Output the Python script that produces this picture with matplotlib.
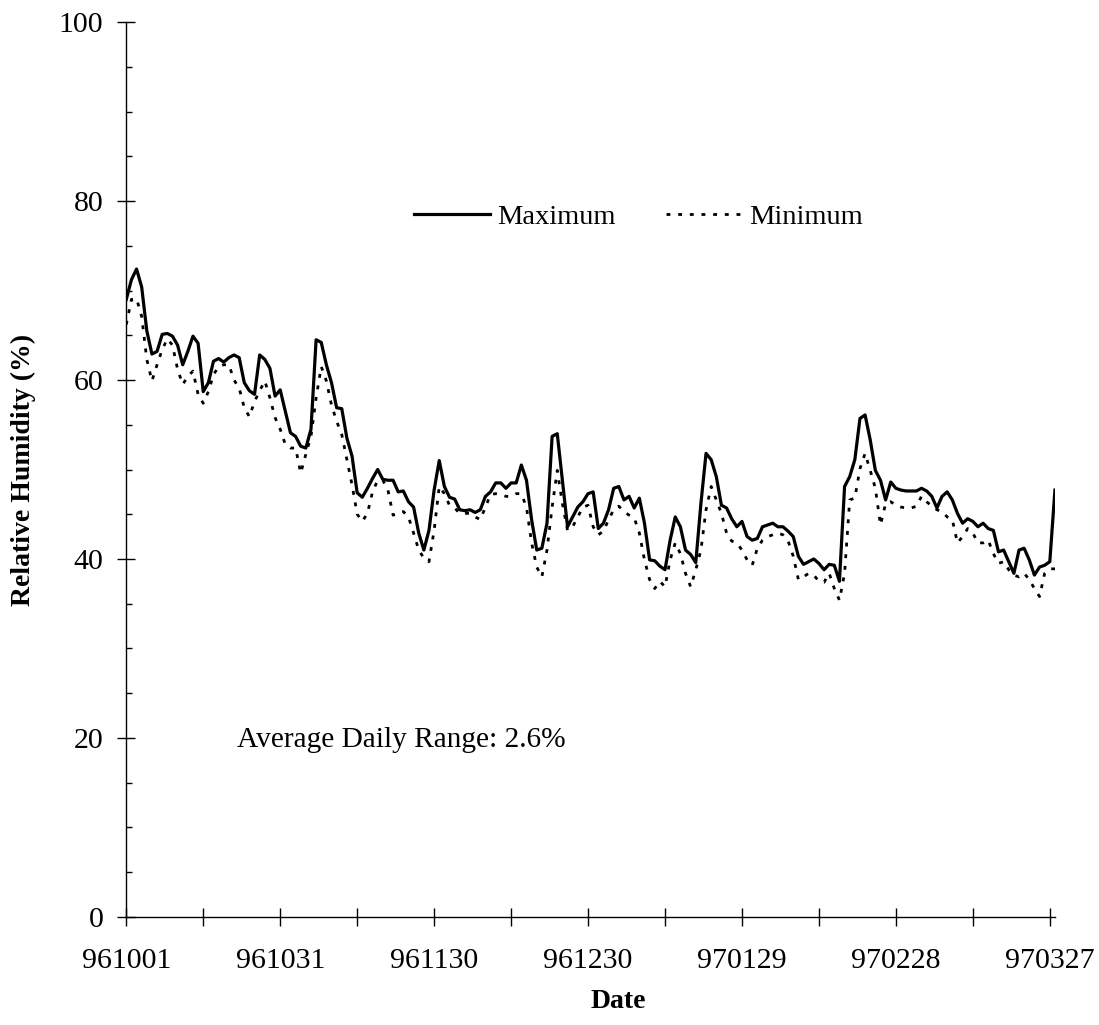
import matplotlib
matplotlib.use("Agg")
import matplotlib.pyplot as plt
import numpy as np

plt.rcParams["font.family"] = ["Liberation Serif", "DejaVu Serif"]

# Daily relative humidity, 1996-10-01 .. 1997-03-27 (one value per logged day)
max_rh = [
    69.0, 71.2, 72.4, 70.4, 65.5, 62.9, 63.2, 65.1, 65.2, 64.9,
    63.9, 61.7, 63.2, 64.9, 64.1, 58.7, 59.7, 62.1, 62.4, 62.0,
    62.5, 62.8, 62.5, 59.7, 58.8, 58.4, 62.8, 62.3, 61.3, 58.2,
    58.9, 56.5, 54.1, 53.7, 52.6, 52.4, 54.5, 64.5, 64.2, 61.7,
    59.7, 56.9, 56.8, 53.5, 51.5, 47.4, 46.9, 47.9, 49.0, 50.0,
    48.9, 48.8, 48.8, 47.5, 47.6, 46.4, 45.8, 42.9, 41.0, 43.2,
    47.7, 51.0, 48.1, 46.9, 46.7, 45.5, 45.4, 45.5, 45.2, 45.5,
    47.0, 47.5, 48.5, 48.5, 47.9, 48.5, 48.5, 50.5, 48.8, 44.4,
    41.0, 41.2, 44.0, 53.7, 54.0, 48.8, 43.6, 44.7, 45.8, 46.4,
    47.3, 47.5, 43.4, 44.0, 45.5, 47.9, 48.1, 46.6, 47.0, 45.7,
    46.8, 44.0, 39.9, 39.8, 39.2, 38.8, 42.1, 44.7, 43.6, 41.0,
    40.5, 39.6, 46.2, 51.8, 51.1, 49.2, 46.0, 45.7, 44.5, 43.6,
    44.2, 42.5, 42.1, 42.3, 43.6, 43.8, 44.0, 43.6, 43.6, 43.1,
    42.5, 40.3, 39.4, 39.7, 40.0, 39.5, 38.8, 39.4, 39.3, 37.5,
    48.1, 49.2, 51.1, 55.7, 56.1, 53.3, 49.9, 48.8, 46.6, 48.6,
    47.9, 47.7, 47.6, 47.6, 47.6, 47.9, 47.6, 47.0, 45.7, 47.0,
    47.5, 46.6, 45.1, 44.0, 44.5, 44.2, 43.6, 44.0, 43.4, 43.2,
    40.8, 41.0, 39.7, 38.4, 41.0, 41.2, 39.9, 38.2, 39.1, 39.3,
    39.7, 47.7,
]
min_rh = [
    66.2, 69.0, 69.1, 67.1, 62.3, 59.9, 61.7, 63.4, 64.6, 63.9,
    61.2, 59.5, 60.4, 61.0, 58.4, 57.4, 58.7, 60.6, 61.5, 61.7,
    61.7, 60.0, 59.1, 56.9, 55.9, 57.6, 58.8, 59.9, 58.0, 55.8,
    54.5, 52.8, 52.4, 52.4, 49.6, 51.7, 53.7, 58.0, 61.5, 59.9,
    57.2, 55.4, 53.9, 51.1, 48.3, 45.0, 44.2, 45.1, 47.5, 48.8,
    48.8, 47.7, 44.9, 45.1, 45.3, 44.7, 42.9, 41.0, 40.1, 39.7,
    43.2, 48.1, 47.3, 46.0, 45.7, 45.1, 45.1, 45.1, 44.7, 44.4,
    45.8, 47.2, 47.3, 47.2, 47.0, 47.0, 47.3, 47.3, 45.8, 41.8,
    39.1, 38.0, 41.0, 45.8, 49.9, 46.2, 43.2, 43.6, 44.7, 45.8,
    46.0, 43.6, 42.7, 43.1, 44.4, 45.5, 45.9, 45.3, 44.9, 44.6,
    42.9, 39.9, 37.7, 36.7, 37.5, 36.9, 39.9, 41.8, 40.6, 38.4,
    36.9, 38.8, 41.0, 45.5, 48.1, 46.6, 45.1, 42.9, 42.0, 41.8,
    41.0, 39.9, 39.3, 41.2, 42.1, 42.5, 42.7, 42.9, 42.7, 42.0,
    40.3, 37.7, 38.0, 38.4, 38.2, 37.5, 37.4, 38.4, 36.7, 35.4,
    38.4, 46.6, 46.8, 50.1, 51.8, 49.9, 47.9, 43.8, 46.2, 46.4,
    46.0, 45.8, 45.7, 45.7, 45.9, 47.0, 46.4, 45.9, 45.5, 45.3,
    44.7, 44.4, 41.8, 42.5, 43.4, 42.9, 41.8, 41.8, 42.1, 40.6,
    39.5, 39.7, 38.8, 38.2, 38.0, 38.4, 37.7, 36.7, 35.8, 38.4,
    38.9, 38.9,
]
date_labels = ["961001", "961031", "961130", "961230", "970129", "970228", "970327"]
note = "Average Daily Range: 2.6%"

days = np.arange(len(max_rh))

fig = plt.figure(figsize=(10.99, 10.25), dpi=100)
ax = fig.add_axes([0.1149, 0.1054, 0.8450, 0.8731])

ax.plot(days, max_rh, color="black", lw=2.3, solid_joinstyle="round",
        label="Maximum")
ax.plot(days, min_rh, color="black", lw=2.0, linestyle=(0, (1.4, 2.8)),
        dash_capstyle="butt", label="Minimum")

ax.set_xlim(0, len(days) - 1)
ax.set_ylim(0, 100)

# category axis: tick every 15 days, label every 30
ax.set_xticks(np.arange(0, 181, 30))
ax.set_xticklabels(date_labels)
ax.set_xticks(np.arange(15, 181, 30), minor=True)
ax.set_yticks(np.arange(0, 101, 20))
ax.set_yticks(np.arange(0, 101, 5), minor=True)

ax.tick_params(axis="x", which="both", direction="inout", length=12.5,
               width=1.0, pad=16, labelsize=21.5)
ax.tick_params(axis="y", which="major", direction="inout", length=13,
               width=1.0, pad=10, labelsize=21.5)
ax.tick_params(axis="y", which="minor", direction="in", length=4.5, width=1.0)

for side in ("top", "right"):
    ax.spines[side].set_visible(False)
for side in ("left", "bottom"):
    ax.spines[side].set_linewidth(1.0)

ax.set_ylabel("Relative Humidity (%)", fontsize=20, fontweight="bold")
ax.yaxis.set_label_coords(-0.0975, 0.5)
ax.set_xlabel("Date", fontsize=20, fontweight="bold")
ax.xaxis.set_label_coords(0.5295, -0.080)

ax.text(21.6, 19.8, note, fontsize=21.2, ha="left", va="center")

ax.legend(loc="center", bbox_to_anchor=(0.5515, 0.782), ncol=2, frameon=False,
          fontsize=20.5, handlelength=2.65, handletextpad=0.25,
          columnspacing=1.8, borderpad=0)

fig.savefig("out.png", dpi=100)
